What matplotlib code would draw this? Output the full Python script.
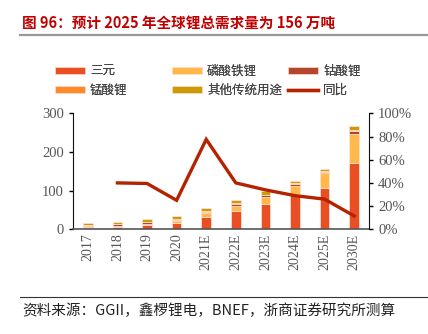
import numpy as np
import matplotlib
matplotlib.use("Agg")
import matplotlib.pyplot as plt
from matplotlib.ticker import FuncFormatter
from matplotlib.lines import Line2D

plt.rcParams['font.family'] = ['Noto Sans CJK SC', 'DejaVu Sans']

# 数据（万吨 LCE）
years = ['2017', '2018', '2019', '2020', '2021E', '2022E', '2023E', '2024E', '2025E', '2030E']
ncm = [4, 7, 11, 16, 33, 48, 65, 91, 108, 172]        # 三元
lfp = [2, 2.5, 3.5, 5, 8, 13, 19, 22, 37, 74]         # 磷酸铁锂
lco = [3, 3.5, 4, 4, 4, 4, 4, 4, 4, 8]                # 钴酸锂
lmo = [1, 1.5, 1.5, 1.5, 2, 2, 2, 2, 1, 3]            # 锰酸锂
other = [5.5, 5.5, 7, 7.5, 8, 8, 8, 6, 6, 9]          # 其他传统用途
yoy = [np.nan, 0.40, 0.395, 0.25, 0.775, 0.40, 0.34, 0.29, 0.26, 0.115]  # 同比

series = [('三元', ncm, '#E94E24'),
          ('磷酸铁锂', lfp, '#FFB84A'),
          ('钴酸锂', lco, '#B4472B'),
          ('锰酸锂', lmo, '#FF8A2B'),
          ('其他传统用途', other, '#CC9A06')]
line_color = '#B52200'

fig = plt.figure(figsize=(4.28, 3.34), dpi=100)

# 标题
fig.text(22 / 428, 1 - 23 / 334, '图 96：预计 2025 年全球锂总需求量为 156 万吨',
         color='#C00000', fontsize=10.5, fontweight='bold', va='center', ha='left')
fig.add_artist(Line2D([20 / 428, 1.0], [1 - 35 / 334, 1 - 35 / 334],
                      color='#999999', linewidth=1.6))

ax = fig.add_axes([73 / 428, 1 - 229.3 / 334, (369 - 73) / 428, (229.3 - 113.3) / 334])
x = np.arange(len(years))
bottom = np.zeros(len(years))
handles = {}
for name, vals, col in series:
    vals = np.array(vals, dtype=float)
    b = ax.bar(x, vals, 0.32, bottom=bottom, color=col, edgecolor='#FFE4D8',
               linewidth=0.5, label=name)
    bottom += vals
    handles[name] = b

ax.set_xlim(-0.5, len(years) - 0.5)
ax.set_ylim(0, 300)
ax.set_yticks([0, 100, 200, 300])
ax.set_xticks(x)
ax.set_xticklabels(years, rotation=90, fontfamily='Liberation Serif', fontsize=10, color='#555555')
for lab in ax.get_yticklabels():
    lab.set_fontfamily('Liberation Serif')
ax.tick_params(axis='y', labelsize=10.5, labelcolor='#555555', length=3, width=1, direction='out')
ax.tick_params(axis='x', length=0, pad=3)
ax.spines['top'].set_visible(False)
ax.spines['right'].set_visible(False)
ax.spines['left'].set_color('#111111')
ax.spines['bottom'].set_color('#555555')
ax.spines['bottom'].set_linewidth(1.2)

ax2 = ax.twinx()
ln, = ax2.plot(x, yoy, color=line_color, linewidth=2.4, label='同比', solid_joinstyle='miter')
handles['同比'] = ln
ax2.set_ylim(0, 1.0)
ax2.set_yticks([0, 0.2, 0.4, 0.6, 0.8, 1.0])
ax2.yaxis.set_major_formatter(FuncFormatter(lambda v, p: f'{v * 100:.0f}%'))
for lab in ax2.get_yticklabels():
    lab.set_fontfamily('Liberation Serif')
ax2.tick_params(axis='y', labelsize=10.5, labelcolor='#555555', length=3, width=1, direction='out')
ax2.spines['top'].set_visible(False)
ax2.spines['left'].set_visible(False)
ax2.spines['bottom'].set_visible(False)
ax2.spines['right'].set_color('#111111')

# 图例：三列，逐列放置
columns = [(55, ['三元', '锰酸锂']), (172, ['磷酸铁锂', '其他传统用途']), (288, ['钴酸锂', '同比'])]
for xpos, names in columns:
    leg = fig.legend([handles[n] for n in names], names, loc='upper left',
                     bbox_to_anchor=(xpos / 428, 1 - 65 / 334), frameon=False,
                     fontsize=9, handlelength=2.4, handleheight=0.45, handletextpad=0.4,
                     labelspacing=0.45, borderpad=0, borderaxespad=0)
    for t in leg.get_texts():
        t.set_color('#444444')
    fig.add_artist(leg)

# 来源
fig.add_artist(Line2D([20 / 428, 1.0], [1 - 297 / 334, 1 - 297 / 334],
                      color='#333333', linewidth=0.8))
fig.text(22 / 428, 1 - 311 / 334, '资料来源：GGII，鑫椤锂电，BNEF，浙商证券研究所测算',
         fontsize=10.5, color='#222222', va='center', ha='left')

fig.savefig('out.png', dpi=100)
